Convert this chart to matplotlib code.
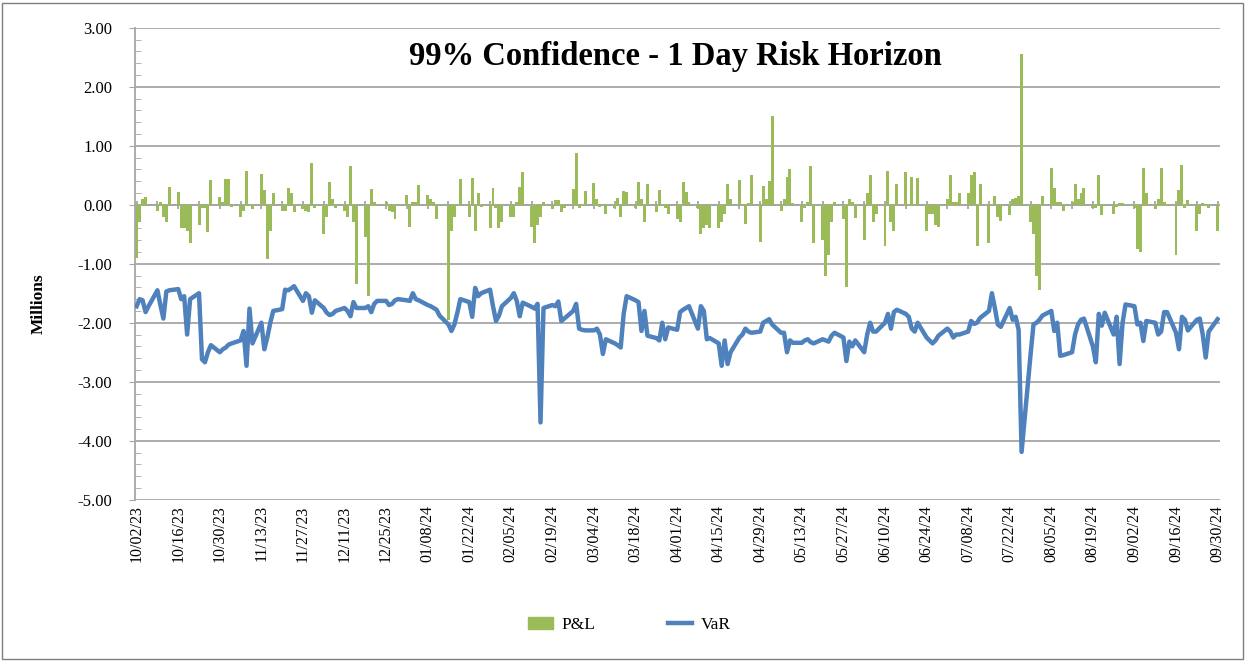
import matplotlib.pyplot as plt
import matplotlib.dates as mdates
from matplotlib.lines import Line2D
from matplotlib.patches import Patch, Rectangle
from matplotlib.ticker import FormatStrFormatter, MultipleLocator
import pandas as pd

# one value per business day, 10/02/23 .. 09/30/24 (rows = two-week blocks)
dates = pd.bdate_range("2023-10-02", "2024-09-30")

pnl = [
    -0.90, -0.30, 0.10, 0.13, -0.02, -0.10, 0.05, -0.20, -0.30, 0.30,
    0.22, -0.40, -0.40, -0.45, -0.65, -0.35, -0.05, -0.05, -0.47, 0.42,
    0.13, 0.05, 0.43, 0.43, -0.03, -0.20, -0.10, 0.57, 0.02, -0.08,
    0.52, 0.25, -0.92, -0.45, 0.20, -0.10, -0.10, 0.28, 0.20, -0.12,
    -0.08, -0.10, -0.12, 0.70, -0.05, -0.50, -0.20, 0.38, 0.10, -0.05,
    -0.10, -0.20, 0.66, -0.30, -1.35, -0.55, -1.55, 0.27, 0.05, 0.02,
    0.05, -0.10, -0.12, -0.25, 0.02, 0.17, -0.37, 0.05, 0.05, 0.33,
    0.17, 0.10, 0.05, -0.25, 0.02, -1.95, -0.45, -0.20, 0.02, 0.43,
    -0.20, 0.45, -0.45, 0.20, -0.03, -0.40, 0.28, -0.05, -0.40, -0.30,
    -0.20, -0.20, 0.05, 0.30, 0.55, -0.38, -0.65, -0.35, -0.20, 0.05,
    -0.08, 0.08, 0.08, -0.12, -0.05, 0.27, 0.88, -0.05, 0.02, 0.23,
    0.37, 0.10, -0.03, 0.02, -0.15, -0.05, 0.12, -0.20, 0.23, 0.22,
    -0.05, 0.38, 0.10, -0.30, 0.35, -0.12, 0.25, 0.02, -0.05, -0.15,
    -0.25, -0.30, 0.38, 0.22, 0.05, -0.05, -0.50, -0.40, -0.35, -0.40,
    -0.40, -0.30, -0.15, 0.35, 0.10, 0.42, 0.02, -0.33, 0.03, 0.50,
    -0.63, 0.32, 0.10, 0.40, 1.50, -0.10, 0.10, 0.47, 0.60, 0.03,
    -0.30, -0.05, 0.05, 0.65, -0.65, -0.60, -1.20, -0.85, -0.30, 0.05,
    -0.25, -1.40, 0.10, 0.05, -0.22, -0.60, 0.20, 0.50, -0.30, -0.15,
    -0.70, 0.58, -0.30, -0.45, 0.35, 0.55, 0.02, 0.47, 0.02, 0.45,
    -0.45, -0.15, -0.15, -0.35, -0.38, 0.10, 0.50, 0.05, 0.05, 0.20,
    0.20, 0.50, 0.55, -0.70, 0.35, -0.65, 0.02, 0.15, -0.20, -0.27,
    -0.18, 0.10, 0.12, 0.15, 2.55, -0.30, -0.50, -1.20, -1.45, 0.15,
    0.62, 0.28, 0.05, 0.05, -0.10, 0.05, 0.35, 0.10, 0.20, 0.28,
    -0.05, -0.05, 0.50, -0.18, 0.02, -0.15, -0.03, 0.03, 0.03, 0.01,
    -0.05, -0.75, -0.80, 0.62, 0.20, -0.07, 0.10, 0.62, 0.05, 0.01,
    -0.85, 0.25, 0.68, -0.05, 0.08, -0.45, -0.15, 0.03, 0.01, -0.05,
    -0.45,
]

var = [
    -1.72, -1.60, -1.62, -1.82, -1.72, -1.45, -1.70, -1.93, -1.47, -1.45,
    -1.43, -1.60, -1.55, -2.20, -1.60, -1.50, -2.62, -2.67, -2.50, -2.38,
    -2.50, -2.45, -2.42, -2.37, -2.35, -2.30, -2.14, -2.73, -1.76, -2.35,
    -2.00, -2.45, -2.25, -2.00, -1.80, -1.77, -1.44, -1.45, -1.42, -1.38,
    -1.63, -1.50, -1.55, -1.83, -1.62, -1.75, -1.83, -1.87, -1.85, -1.80,
    -1.75, -1.80, -1.89, -1.65, -1.75, -1.75, -1.72, -1.82, -1.68, -1.63,
    -1.63, -1.70, -1.68, -1.62, -1.60, -1.62, -1.63, -1.50, -1.60, -1.62,
    -1.70, -1.72, -1.75, -1.78, -1.88, -2.03, -2.14, -2.03, -1.83, -1.60,
    -1.65, -1.90, -1.41, -1.55, -1.50, -1.44, -1.72, -1.97, -1.88, -1.72,
    -1.58, -1.50, -1.63, -1.89, -1.66, -1.73, -1.76, -1.68, -3.69, -1.75,
    -1.70, -1.72, -1.64, -1.97, -1.93, -1.80, -1.68, -2.10, -2.12, -2.13,
    -2.13, -2.10, -2.20, -2.53, -2.28, -2.35, -2.38, -2.42, -1.85, -1.55,
    -1.62, -1.65, -2.14, -1.80, -2.22, -2.26, -2.30, -2.00, -2.28, -2.08,
    -2.12, -1.82, -1.78, -1.75, -1.72, -2.10, -1.72, -1.80, -2.28, -2.26,
    -2.35, -2.73, -2.30, -2.70, -2.50, -2.25, -2.20, -2.10, -2.15, -2.17,
    -2.15, -2.00, -1.97, -1.94, -2.03, -2.17, -2.17, -2.50, -2.30, -2.34,
    -2.34, -2.30, -2.28, -2.33, -2.35, -2.28, -2.30, -2.32, -2.22, -2.17,
    -2.25, -2.65, -2.32, -2.40, -2.30, -2.50, -2.20, -2.00, -2.15, -2.15,
    -2.00, -1.85, -2.10, -1.82, -1.78, -1.85, -1.90, -2.10, -2.15, -2.00,
    -2.25, -2.30, -2.35, -2.30, -2.22, -2.10, -2.15, -2.25, -2.20, -2.20,
    -2.15, -1.97, -2.02, -2.00, -1.92, -1.80, -1.50, -1.75, -2.03, -2.07,
    -1.75, -1.95, -1.90, -2.12, -4.19, -2.55, -2.03, -2.00, -1.95, -1.88,
    -1.80, -2.14, -2.00, -2.56, -2.55, -2.50, -2.20, -2.03, -1.95, -1.93,
    -2.40, -2.67, -1.85, -2.05, -1.83, -2.20, -1.90, -2.70, -2.00, -1.69,
    -1.72, -2.03, -2.00, -2.31, -1.97, -2.00, -2.20, -2.15, -1.82, -1.82,
    -2.17, -2.45, -1.90, -1.95, -2.13, -1.95, -1.93, -2.20, -2.59, -2.15,
    -1.94,
]

title = "99% Confidence - 1 Day Risk Horizon"
green = "#9BBB59"
blue = "#4F81BD"
grid_grey = "#A6A6A6"

plt.rcParams["font.family"] = ["Liberation Serif", "DejaVu Serif"]

fig = plt.figure(figsize=(12.47, 6.61), dpi=100)
ax = fig.add_axes([0.108, 0.244, 0.870, 0.714])

ax.bar(dates, pnl, width=1.0, color=green, zorder=2)
ax.plot(dates, var, color=blue, lw=3.2, zorder=3, solid_joinstyle="round")

# y axis
ax.set_ylim(-5, 3)
ax.yaxis.set_major_locator(MultipleLocator(1))
ax.yaxis.set_minor_locator(MultipleLocator(0.2))
ax.yaxis.set_major_formatter(FormatStrFormatter("%.2f"))
ax.yaxis.grid(True, color=grid_grey, lw=1.3, zorder=0)
ax.set_axisbelow(True)
ax.tick_params(axis="y", which="major", length=4, color=grid_grey,
               labelsize=12, pad=12)
ax.tick_params(axis="y", which="minor", direction="in", length=4,
               color=grid_grey)

# x axis: labels every two weeks along the bottom
d0, d1 = dates[0], dates[-1]
ax.set_xlim(d0 - pd.Timedelta(hours=16), d1 + pd.Timedelta(hours=16))
ax.set_xticks(pd.date_range(d0, d1, freq="14D"))
ax.xaxis.set_major_formatter(mdates.DateFormatter("%m/%d/%y"))
ax.tick_params(axis="x", length=0, labelsize=11.5, pad=4, labelrotation=90)

# horizontal axis line through zero with weekly cross ticks
ax.axhline(0, color=grid_grey, lw=1.3, zorder=1)
weeks = pd.date_range(d0, d1, freq="7D")
ax.plot(weeks, [0] * len(weeks), ls="none", marker="|", ms=6, mew=1.3,
        color=grid_grey, zorder=1)

for side in ("top", "right", "bottom"):
    ax.spines[side].set_visible(False)
ax.spines["left"].set_color(grid_grey)
ax.spines["left"].set_linewidth(1.3)

fig.text(0.542, 0.914, title, ha="center", va="center",
         fontsize=23.5, fontweight="bold")
fig.text(0.031, 0.54, "Millions", rotation=90, ha="center", va="center",
         fontsize=12.5, fontweight="bold")

handles = [Patch(color=green), Line2D([], [], color=blue, lw=3.2)]
fig.legend(handles, ["P&L", "VaR"], loc="center", bbox_to_anchor=(0.505, 0.055),
           ncol=2, frameon=False, fontsize=12.5, handlelength=1.4,
           handletextpad=0.5, columnspacing=4.2)

fig.add_artist(Rectangle((0.002, 0.003), 0.995, 0.993, transform=fig.transFigure,
                         fill=False, ec="#7F7F7F", lw=1))

fig.savefig("out.png", dpi=100)
